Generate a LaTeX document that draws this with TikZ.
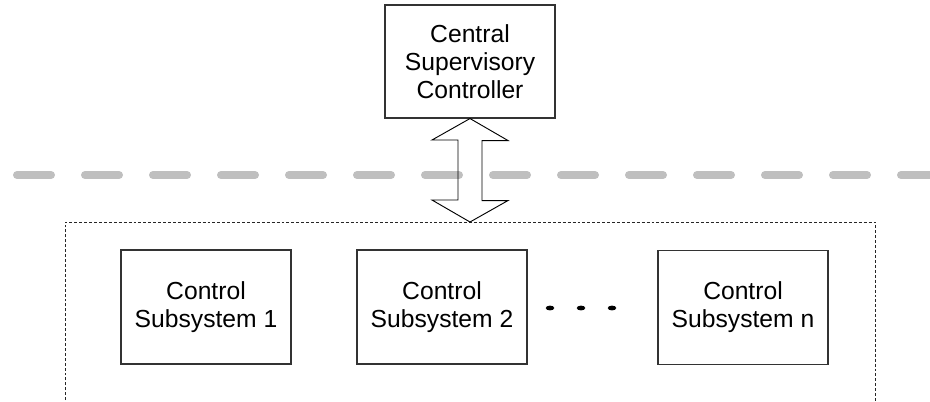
\documentclass[tikz,border=0pt]{standalone}
\usepackage{fontspec}
\setmainfont{Liberation Sans}
\begin{document}
\begin{tikzpicture}[x=0.75pt,y=-0.75pt,
  box/.style={draw=black!80, line width=0.8pt, fill=white, minimum width=127.5pt, minimum height=85.5pt, align=center, inner sep=0pt, font=\fontsize{18.5}{21}\selectfont},
  topbox/.style={box, minimum height=84.75pt},
  sep/.style={line width=6pt, line cap=round, draw=black!25, dash pattern=on 25.5pt off 25.5pt},
  region/.style={draw=black!85, line width=0.6pt, dash pattern=on 2.2pt off 1.5pt},
  fatarrow/.style={draw=black, line width=0.7pt}]
\useasboundingbox (0,0) rectangle (930,401);
\draw[sep] (17,175) -- (940,175);
\node[topbox] (csc) at (470,61.5) {Central\\Supervisory\\Controller};
\coordinate (regtop) at (470,222);
\draw[region] (65,410) -- (65,222) -- (875,222) -- (875,410);
\draw[fatarrow] (csc.south) -- ++(38,22) -- ++(-26,0) -- ++(0,60) -- ++(26,0) -- (regtop) -- ++(-38,-22) -- ++(26,0) -- ++(0,-60) -- ++(-26,0) -- cycle;
\node[box] (s1) at (206,307) {Control\\Subsystem 1};
\node[box] (s2) at (442,307) {Control\\Subsystem 2};
\node[box] (sn) at (743,307.5) {Control\\Subsystem n};
\foreach \x in {550,581,612} \fill (\x,308) ellipse [x radius=3.2pt, y radius=1.8pt];
\end{tikzpicture}
\end{document}
